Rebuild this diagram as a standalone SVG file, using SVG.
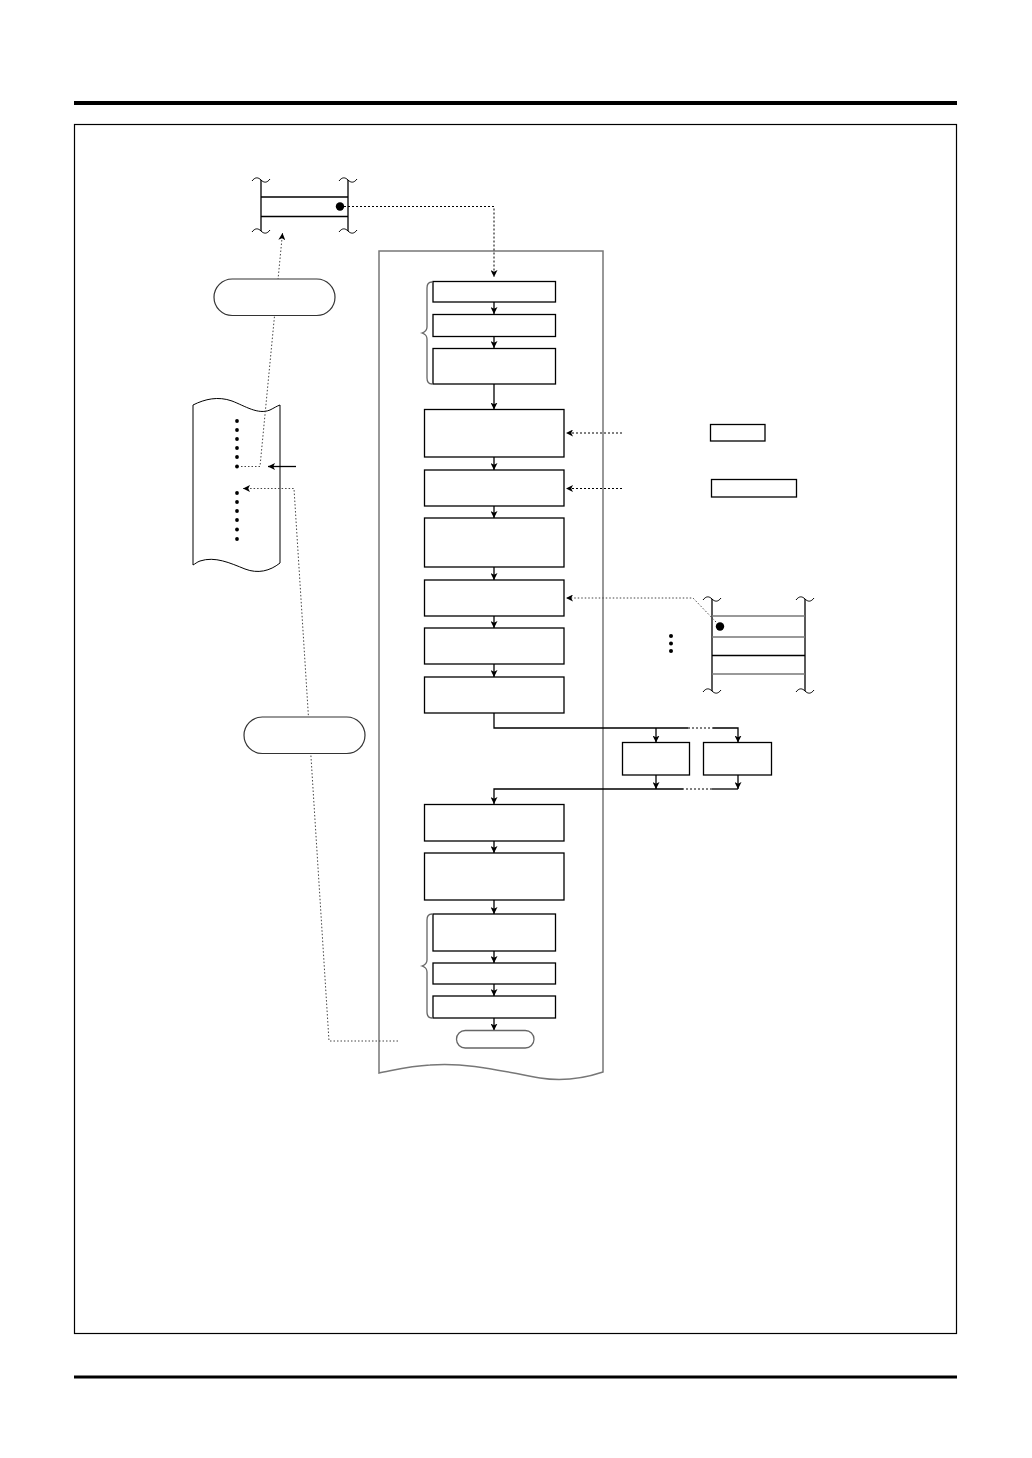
<svg xmlns="http://www.w3.org/2000/svg" width="1032" height="1458" viewBox="0 0 1032 1458">
<defs>
<style>
.box{fill:#fff;stroke:#000;stroke-width:1.3}
.gray{fill:none;stroke:#666;stroke-width:1.3}
.oval{fill:#fff;stroke:#333;stroke-width:1.2}
.ln{fill:none;stroke:#000;stroke-width:1.3}
.dot{fill:none;stroke:#000;stroke-width:1;stroke-dasharray:2 2}
.dotg{fill:none;stroke:#444;stroke-width:1;stroke-dasharray:1.5 2}
.sq{fill:none;stroke:#000;stroke-width:1}
</style>
<marker id="ah" viewBox="0 0 8 8" refX="8" refY="4" markerWidth="7" markerHeight="7" orient="auto" markerUnits="userSpaceOnUse">
<path d="M0,0 L8,4 L0,8 L2,4 z" fill="#000"/>
</marker>
</defs>
<rect x="0" y="0" width="1032" height="1458" fill="#fff"/>
<g id="page">
<rect x="74" y="101" width="883" height="4" fill="#000"/>
<rect x="74" y="1375.5" width="883" height="3" fill="#000"/>
<rect x="74.5" y="124.5" width="882" height="1209" fill="none" stroke="#000" stroke-width="1.2"/>
</g>
<g id="flowpage">
<path d="M379,251 L603,251 L603,1072 C585,1078 565,1082 540,1078 C505,1072 470,1062 430,1065 C410,1066 395,1070 379,1073 Z" fill="#fff" stroke="#777" stroke-width="1.5"/>
</g>
<g id="mem-top">
<line class="ln" x1="261" y1="180" x2="261" y2="231"/>
<line class="ln" x1="348" y1="180" x2="348" y2="231"/>
<line class="ln" x1="261" y1="197" x2="348" y2="197"/>
<line class="ln" x1="261" y1="216.5" x2="348" y2="216.5"/>
<path class="sq" d="M252,181 c3,-4 6,-4 9,-1 s6,3 9,-1"/>
<path class="sq" d="M339,181 c3,-4 6,-4 9,-1 s6,3 9,-1"/>
<path class="sq" d="M252,232 c3,-4 6,-4 9,-1 s6,3 9,-1"/>
<path class="sq" d="M339,232 c3,-4 6,-4 9,-1 s6,3 9,-1"/>
<circle cx="340" cy="206.5" r="4.2" fill="#000"/>
</g>
<g id="mem-right">
<line class="ln" x1="712" y1="599" x2="712" y2="691"/>
<line class="ln" x1="805" y1="599" x2="805" y2="691"/>
<line x1="712" y1="616" x2="805" y2="616" stroke="#777" stroke-width="1.3"/>
<line x1="712" y1="637" x2="805" y2="637" stroke="#777" stroke-width="1.3"/>
<line class="ln" x1="712" y1="655.5" x2="805" y2="655.5"/>
<line x1="712" y1="674" x2="805" y2="674" stroke="#777" stroke-width="1.3"/>
<path class="sq" d="M703,600 c3,-4 6,-4 9,-1 s6,3 9,-1"/>
<path class="sq" d="M796,600 c3,-4 6,-4 9,-1 s6,3 9,-1"/>
<path class="sq" d="M703,692 c3,-4 6,-4 9,-1 s6,3 9,-1"/>
<path class="sq" d="M796,692 c3,-4 6,-4 9,-1 s6,3 9,-1"/>
<circle cx="720" cy="626.5" r="4.2" fill="#000"/>
<circle cx="671" cy="636" r="2" fill="#000"/>
<circle cx="671" cy="643.5" r="2" fill="#000"/>
<circle cx="671" cy="651" r="2" fill="#000"/>
</g>
<g id="listpage">
<path d="M193,405 C205,399 218,396 232,401 C245,406 258,415 270,410 C274,408 277,406 280,405 L280,563 C270,571 258,574 245,569 C230,563 215,556 200,561 C197,562 195,564 193,565 Z" fill="#fff" stroke="#000" stroke-width="1"/>
<g fill="#000">
<circle cx="237" cy="421" r="1.9"/><circle cx="237" cy="430" r="1.9"/><circle cx="237" cy="439" r="1.9"/><circle cx="237" cy="448" r="1.9"/><circle cx="237" cy="457" r="1.9"/><circle cx="237" cy="466.5" r="1.9"/>
<circle cx="237" cy="493" r="1.9"/><circle cx="237" cy="502" r="1.9"/><circle cx="237" cy="511" r="1.9"/><circle cx="237" cy="520" r="1.9"/><circle cx="237" cy="529.5" r="1.9"/><circle cx="237" cy="539" r="1.9"/>
</g>
</g>
<g id="connectors">
<path class="dot" d="M344,206.5 L494,206.5 L494,277" marker-end="url(#ah)"/>
<path class="dotg" d="M241,466.5 L260,466.5 L282.5,233" marker-end="url(#ah)"/>
<path class="dotg" d="M398,1041 L329,1041 L294,488.5 L243,488.5" marker-end="url(#ah)"/>
<path class="ln" d="M296,466.5 L268,466.5" marker-end="url(#ah)"/>
<path class="dot" d="M622,433 L566,433" marker-end="url(#ah)"/>
<path class="dot" d="M622,488.5 L566,488.5" marker-end="url(#ah)"/>
<path class="dotg" d="M716,622 L693,598 L566,598" marker-end="url(#ah)"/>
<path class="ln" d="M494,302 L494,314" marker-end="url(#ah)"/>
<path class="ln" d="M494,337 L494,348" marker-end="url(#ah)"/>
<path class="ln" d="M494,384 L494,409.5" marker-end="url(#ah)"/>
<path class="ln" d="M494,457 L494,470" marker-end="url(#ah)"/>
<path class="ln" d="M494,506 L494,518" marker-end="url(#ah)"/>
<path class="ln" d="M494,567 L494,580" marker-end="url(#ah)"/>
<path class="ln" d="M494,616 L494,628" marker-end="url(#ah)"/>
<path class="ln" d="M494,664 L494,677" marker-end="url(#ah)"/>
<path class="ln" d="M494,713 L494,728 L688,728"/>
<line class="dot" x1="688" y1="728" x2="713" y2="728"/>
<path class="ln" d="M713,728 L738,728 L738,742.5" marker-end="url(#ah)"/>
<path class="ln" d="M656,728 L656,742.5" marker-end="url(#ah)"/>
<path class="ln" d="M656,775 L656,789" marker-end="url(#ah)"/>
<path class="ln" d="M738,775 L738,789" marker-end="url(#ah)"/>
<path class="ln" d="M738,789 L712,789"/>
<line class="dot" x1="712" y1="789" x2="683" y2="789"/>
<path class="ln" d="M683,789 L494,789 L494,804" marker-end="url(#ah)"/>
<path class="ln" d="M494,841 L494,853" marker-end="url(#ah)"/>
<path class="ln" d="M494,900 L494,914" marker-end="url(#ah)"/>
<path class="ln" d="M494,951 L494,963" marker-end="url(#ah)"/>
<path class="ln" d="M494,984 L494,996" marker-end="url(#ah)"/>
<path class="ln" d="M494,1018 L494,1030.5" marker-end="url(#ah)"/>
</g>
<g id="oval1"><rect class="oval" x="214" y="279" width="121" height="36.5" rx="18.25"/></g>
<g id="oval2"><rect class="oval" x="244" y="717" width="121" height="36.5" rx="18.25"/></g>
<g id="brace1"><path class="gray" d="M432,282 C428,282 427,284 427,288 L427,327 C427,330 425,332 422,333 C425,334 427,336 427,339 L427,378 C427,382 428,384 432,384"/></g>
<g id="brace2"><path class="gray" d="M432,914 C428,914 427,916 427,920 L427,960 C427,963 425,965 422,966 C425,967 427,969 427,972 L427,1012 C427,1016 428,1018 432,1018"/></g>
<g id="n1"><rect class="box" x="433" y="281.5" width="122.5" height="20.5"/></g>
<g id="n2"><rect class="box" x="433" y="314.5" width="122.5" height="22"/></g>
<g id="n3"><rect class="box" x="433" y="348.5" width="122.5" height="35.5"/></g>
<g id="n4"><rect class="box" x="424.5" y="409.5" width="139.5" height="47.5"/></g>
<g id="n5"><rect class="box" x="424.5" y="470" width="139.5" height="36"/></g>
<g id="n6"><rect class="box" x="424.5" y="518" width="139.5" height="49"/></g>
<g id="n7"><rect class="box" x="424.5" y="580" width="139.5" height="36"/></g>
<g id="n8"><rect class="box" x="424.5" y="628" width="139.5" height="36"/></g>
<g id="n9"><rect class="box" x="424.5" y="677" width="139.5" height="36"/></g>
<g id="nA"><rect class="box" x="622.5" y="742.5" width="67" height="32.5"/></g>
<g id="nB"><rect class="box" x="703.5" y="742.5" width="68" height="32.5"/></g>
<g id="n10"><rect class="box" x="424.5" y="804.5" width="139.5" height="36.5"/></g>
<g id="n11"><rect class="box" x="424.5" y="853" width="139.5" height="47"/></g>
<g id="n12"><rect class="box" x="433" y="914" width="122.5" height="37"/></g>
<g id="n13"><rect class="box" x="433" y="963" width="122.5" height="21"/></g>
<g id="n14"><rect class="box" x="433" y="996" width="122.5" height="22"/></g>
<g id="term"><rect x="456.5" y="1030.5" width="77.5" height="17.5" rx="8.75" fill="#fff" stroke="#666" stroke-width="1.3"/></g>
<g id="r1"><rect class="box" x="710.5" y="424.5" width="54.5" height="16.5"/></g>
<g id="r2"><rect class="box" x="711.5" y="479.5" width="85" height="17.5"/></g>
</svg>
